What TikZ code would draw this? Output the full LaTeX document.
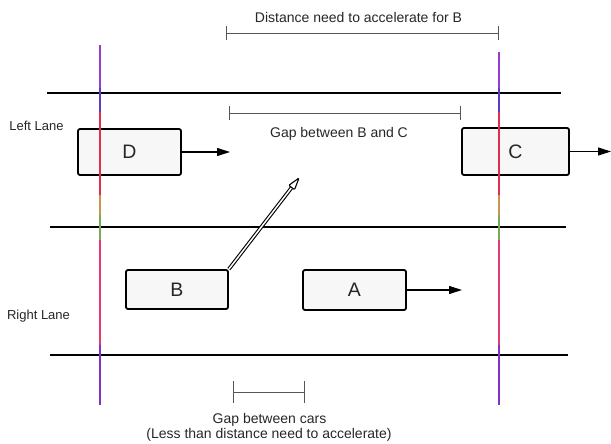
\documentclass[tikz,border=0pt]{standalone}
\usepackage{fontspec}
\setmainfont{Liberation Sans}
\usetikzlibrary{arrows.meta,calc}
\definecolor{txt}{HTML}{262626}
\definecolor{dimline}{HTML}{555555}
\definecolor{carfill}{HTML}{F7F7F7}
\tikzset{
  lane/.style={line width=2.2pt, black},
  car/.style={draw=black, line width=1.8pt, fill=carfill, rounded corners=2pt,
    inner sep=0pt, font=\fontsize{19.5}{20}\selectfont, text=txt},
  move/.style={line width=1.1pt, -{Triangle[length=13pt,width=8pt]}},
  dim/.style={line width=0.9pt, dimline},
  label/.style={font=\fontsize{14}{16}\selectfont, text=txt, anchor=base, inner sep=0pt},
  lanelabel/.style={font=\fontsize{13}{15}\selectfont, text=txt, anchor=base, inner sep=0pt},
  shaft/.style={line width=1.1pt, double=white, double distance=1.5pt},
  lanechange/.style={line width=1.1pt, draw=black, fill=white, line join=round, rounded corners=1pt},
  refmark/.style={line width=1.6pt}
}
\begin{document}
\begin{tikzpicture}[x=1pt,y=-1pt]
\useasboundingbox (0,0) rectangle (611,444);

% lane markings
\draw[lane] (47,93) -- (561,93);
\draw[lane] (50,227) -- (566,227);
\draw[lane] (50,355) -- (568,355);

% lane labels
\node[lanelabel] (ll) at (36.5,131) {Left Lane};
\node[lanelabel] (rl) at (38.5,319) {Right Lane};

% cars
\node[car, minimum width=103pt, minimum height=46pt] (D) at (129.5,152) {D};
\node[car, minimum width=107pt, minimum height=47pt] (C) at (515.5,151.5) {C};
\node[car, minimum width=102pt, minimum height=39pt] (B) at (177,289.5) {B};
\node[car, minimum width=103pt, minimum height=40pt] (A) at (354.5,290) {A};

% reference marks across the road, drawn over the cars
\foreach \x/\ya in {100/45, 499/52}{
  \draw[refmark, color={rgb,255:red,150;green,60;blue,210}] (\x,\ya) -- (\x,88);
  \draw[refmark, color={rgb,255:red,90;green,60;blue,200}] (\x,88) -- (\x,112);
  \draw[refmark, color={rgb,255:red,225;green,45;blue,80}] (\x,112) -- (\x,195);
  \draw[refmark, color={rgb,255:red,200;green,150;blue,80}] (\x,195) -- (\x,215);
  \draw[refmark, color={rgb,255:red,120;green,170;blue,90}] (\x,215) -- (\x,240);
  \draw[refmark, color={rgb,255:red,225;green,60;blue,110}] (\x,240) -- (\x,345);
  \draw[refmark, color={rgb,255:red,130;green,50;blue,200}] (\x,345) -- (\x,405);
}

% direction of travel
\coordinate (dT) at (230,152);
\coordinate (cT) at (611,151.5);
\coordinate (aT) at (462,290);
\draw[move] (D.east) -- (dT);
\draw[move] (C.east) -- (cT);
\draw[move] (A.east) -- (aT);

% B changing lanes
\coordinate (tip) at (299,178);
\coordinate (hb) at ($(tip)!12pt!(B.north east)$);
\draw[shaft] (B.north east) -- (hb);
\draw[lanechange] (tip) -- ($(hb)!3.6pt!90:(tip)$) -- ($(hb)!3.6pt!-90:(tip)$) -- cycle;

% distance needed to accelerate
\coordinate (d1) at (226,33.5);
\coordinate (d2) at (498,33.5);
\draw[dim] (d1) -- (d2);
\draw[dim] ($(d1)+(0,-7)$) -- ($(d1)+(0,7)$);
\draw[dim] ($(d2)+(0,-7)$) -- ($(d2)+(0,7)$);
\node[label] (dl) at (358.5,23) {Distance need to accelerate for B};

% gap between B and C
\coordinate (g1) at (229,113);
\coordinate (g2) at (460,113);
\draw[dim] (g1) -- (g2);
\draw[dim] ($(g1)+(0,-7)$) -- ($(g1)+(0,7)$);
\draw[dim] ($(g2)+(0,-7)$) -- ($(g2)+(0,7)$);
\node[label] (gl) at (339,138) {Gap between B and C};

% gap between cars
\coordinate (c1) at (233,392);
\coordinate (c2) at (304,392);
\draw[dim] (c1) -- (c2);
\draw[dim] ($(c1)+(0,-11)$) -- ($(c1)+(0,11)$);
\draw[dim] ($(c2)+(0,-11)$) -- ($(c2)+(0,11)$);
\node[label] (cl1) at (269.5,423) {Gap between cars};
\node[label] (cl2) at (269,438.5) {(Less than distance need to accelerate)};
\end{tikzpicture}
\end{document}
